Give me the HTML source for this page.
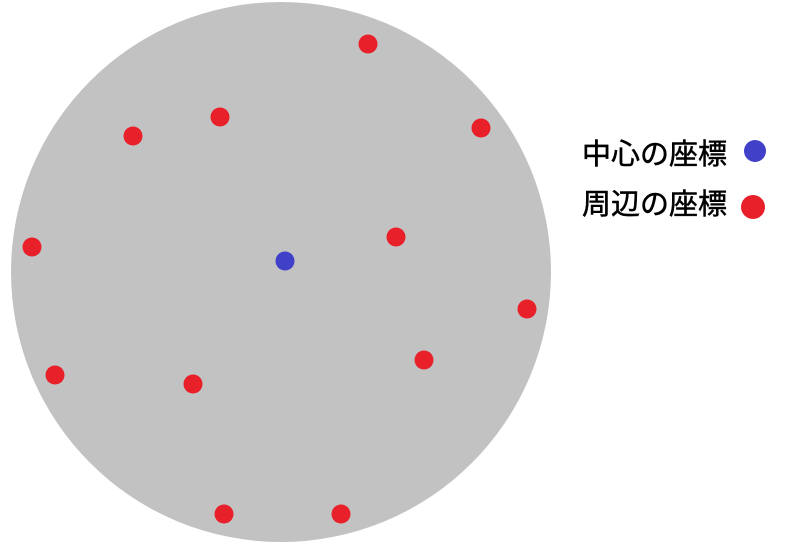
<!DOCTYPE html>
<html><head><meta charset="utf-8">
<style>
html,body{margin:0;padding:0;background:#fff;}
svg{display:block;}
text{font-family:"Liberation Sans","Noto Sans CJK JP",sans-serif;font-size:29px;fill:#000;stroke:#000;stroke-width:0.5px;}
</style></head>
<body>
<svg id="chart" width="789" height="549" viewBox="0 0 789 549">
<circle cx="281" cy="272" r="270" fill="#c2c2c2"/>
<g id="marks"></g>
<g>
<text x="582" y="164">中心の座標</text>
<circle cx="755" cy="151" r="11" fill="#4040c8"/>
<text x="582" y="214">周辺の座標</text>
<circle cx="753" cy="207" r="12" fill="#e8202a"/>
</g>
</svg>
<script>
// data coords: origin at circle centre, y upward
const centerX = [4];
const centerY = [11];
const periX = [87, -61, -148, 200, -249, 115, 246, 143, -226, -88, -57, 60];
const periY = [228, 155, 136, 144, 25, 35, -37, -88, -103, -112, -242, -242];
const ox = 281, oy = 272;
function xs(v){return ox + v;}
function ys(v){return oy - v;}
const g = document.getElementById('marks');
const ns = 'http://www.w3.org/2000/svg';
for (let i = 0; i < periX.length; i++) {
  const c = document.createElementNS(ns, 'circle');
  c.setAttribute('cx', xs(periX[i]));
  c.setAttribute('cy', ys(periY[i]));
  c.setAttribute('r', 9.5);
  c.setAttribute('fill', '#e8202a');
  
  
  g.appendChild(c);
}
for (let i = 0; i < centerX.length; i++) {
  const c = document.createElementNS(ns, 'circle');
  c.setAttribute('cx', xs(centerX[i]));
  c.setAttribute('cy', ys(centerY[i]));
  c.setAttribute('r', 9.5);
  c.setAttribute('fill', '#4040c8');
  
  
  g.appendChild(c);
}
</script>
</body></html>
